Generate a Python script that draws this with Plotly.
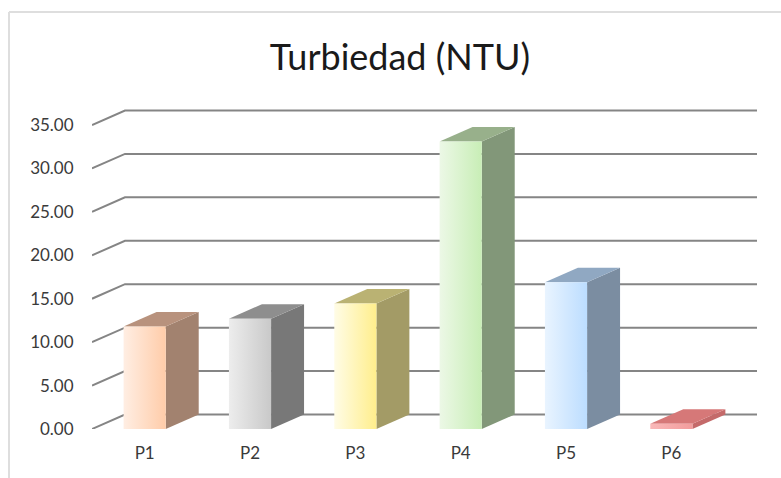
import plotly.graph_objects as go

# Turbidity readings per sampling point
categories = ["P1", "P2", "P3", "P4", "P5", "P6"]
turbidity = [11.8, 12.7, 14.45, 33.1, 16.9, 0.6]
y_ticks = [0, 5, 10, 15, 20, 25, 30, 35]
y_tick_labels = [f"{v:.2f}" for v in y_ticks]

# Face colours per bar: front (left -> right gradient), side, top
front_light = ["#FFEEE3", "#EDEDED", "#FFFCE6", "#ECF8E6", "#E9F4FF", "#F9B8B8"]
front_dark = ["#FFCCA9", "#C9C9C9", "#FFEE8C", "#C8EEB6", "#BCDDFF", "#F29C9C"]
side_col = ["#A2826F", "#787878", "#A39B66", "#829779", "#7B8DA1", "#C46A6A"]
top_col = ["#B8927D", "#8E8E8E", "#BAB273", "#98B08B", "#90A8C2", "#D67878"]

# Oblique depth used for the pseudo-3D look (x in category units, y in value units)
DX = 0.313
DY = 1.67
HALF_W = 0.2

W, H = 781, 478
ML, MR, MT, MB = 92, 24, 100, 49
x_lo, x_hi = -0.5, len(categories) - 0.5 + DX
px_per_val = 8.686
y_hi = (H - MB - MT) / px_per_val

fig = go.Figure()

# Side-wall diagonals and back-wall gridlines
for v in y_ticks:
    fig.add_trace(go.Scatter(
        x=[x_lo, x_lo + DX, x_hi], y=[v, v + DY, v + DY],
        mode="lines", line=dict(color="#858585", width=2),
        hoverinfo="skip", showlegend=False,
    ))

# Bars: side, top and front faces
for i, (cat, v) in enumerate(zip(categories, turbidity)):
    xl, xr = i - HALF_W, i + HALF_W
    fig.add_trace(go.Scatter(
        x=[xr, xr, xr + DX, xr + DX, xr], y=[0, v, v + DY, DY, 0],
        mode="lines", fill="toself", fillcolor=side_col[i],
        line=dict(width=0), hoverinfo="skip", showlegend=False,
    ))
    fig.add_trace(go.Scatter(
        x=[xl, xr, xr + DX, xl + DX, xl], y=[v, v, v + DY, v + DY, v],
        mode="lines", fill="toself", fillcolor=top_col[i],
        line=dict(width=0), hoverinfo="skip", showlegend=False,
    ))
    fig.add_trace(go.Scatter(
        x=[xl, xr, xr, xl, xl], y=[0, 0, v, v, 0],
        mode="lines", fill="toself",
        fillgradient=dict(type="horizontal",
                          colorscale=[[0, front_light[i]], [1, front_dark[i]]]),
        line=dict(width=0), name=cat,
        hovertemplate=f"{cat}: {v:.2f}<extra></extra>", showlegend=False,
    ))

# Chart frame (top and left edges)
frame_top = 1 + (MT - 12) / (H - MT - MB)
frame_left = (9 - ML) / (W - ML - MR)
fig.add_shape(type="line", xref="paper", yref="paper",
              x0=frame_left, x1=1 + MR / (W - ML - MR), y0=frame_top, y1=frame_top,
              line=dict(color="#DEDEDE", width=2))
fig.add_shape(type="line", xref="paper", yref="paper",
              x0=frame_left, x1=frame_left, y0=frame_top, y1=-MB / (H - MT - MB),
              line=dict(color="#DEDEDE", width=2))

fig.update_layout(
    width=W, height=H,
    margin=dict(l=ML, r=MR, t=MT, b=MB),
    paper_bgcolor="white", plot_bgcolor="white",
    title=dict(text="Turbiedad (NTU)", x=400 / W, xanchor="center",
               y=1 - 57 / H, yanchor="middle",
               font=dict(family="Lato", size=36, color="#1A1A1A")),
    xaxis=dict(range=[x_lo, x_hi], tickvals=list(range(len(categories))),
               ticktext=categories, showgrid=False, zeroline=False,
               showline=False, ticks="outside", ticklen=9,
               tickcolor="rgba(0,0,0,0)",
               tickfont=dict(family="Lato", size=17, color="#3A3A3A")),
    yaxis=dict(range=[0, y_hi], tickvals=y_ticks, ticktext=y_tick_labels,
               showgrid=False, zeroline=False, showline=False,
               ticks="outside", ticklen=14, tickcolor="rgba(0,0,0,0)",
               tickfont=dict(family="Lato", size=17, color="#3A3A3A")),
)

fig.write_html("out.html")
